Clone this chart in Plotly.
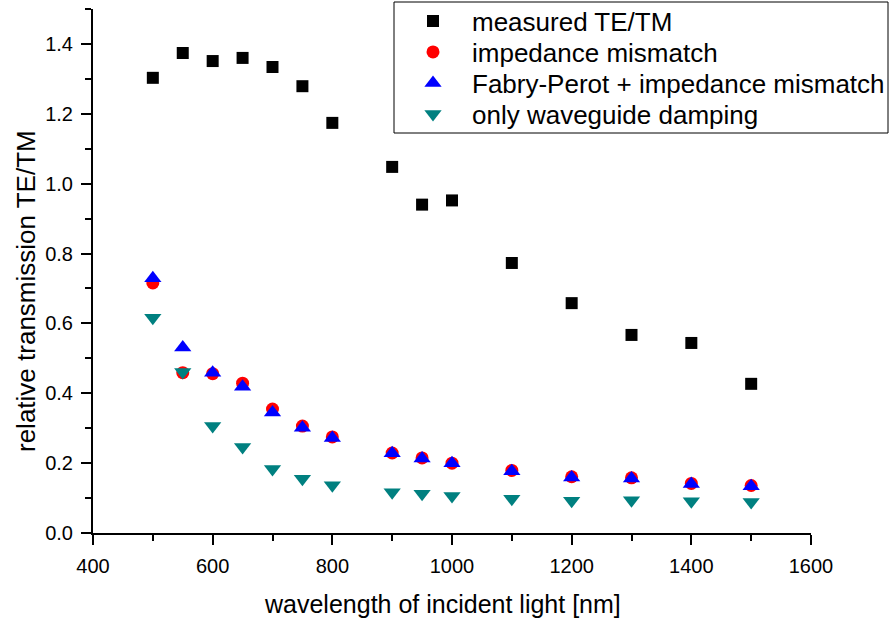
import plotly.graph_objects as go

wavelength = [500, 550, 600, 650, 700, 750, 800, 900, 950, 1000, 1100, 1200, 1300, 1400, 1500]
measured = [1.303, 1.374, 1.351, 1.360, 1.334, 1.279, 1.174, 1.048, 0.940, 0.952, 0.773, 0.658, 0.567, 0.544, 0.427]
impedance = [0.716, 0.459, 0.456, 0.429, 0.355, 0.306, 0.275, 0.229, 0.215, 0.200, 0.179, 0.161, 0.158, 0.142, 0.136]
fabry_perot = [0.729, 0.531, 0.459, 0.419, 0.345, 0.301, 0.272, 0.228, 0.213, 0.200, 0.177, 0.159, 0.156, 0.140, 0.134]
waveguide = [0.616, 0.461, 0.306, 0.246, 0.183, 0.155, 0.137, 0.117, 0.112, 0.106, 0.098, 0.092, 0.094, 0.091, 0.089]

names = ["measured TE/TM", "impedance mismatch", "Fabry-Perot + impedance mismatch", "only waveguide damping"]
FONT = "Liberation Sans, Arial, sans-serif"

# plot area in pixels
L, R, T, B = 93, 811, 9, 533
W, H = R - L, B - T
px = lambda x: (x - L) / W
py = lambda y: (B - y) / H

fig = go.Figure()
fig.add_trace(go.Scatter(x=wavelength, y=measured, mode="markers", name=names[0], legend="legend",
                         marker=dict(symbol="square", size=12, color="black")))
fig.add_trace(go.Scatter(x=wavelength, y=impedance, mode="markers", name=names[1], legend="legend2",
                         marker=dict(symbol="circle", size=13, color="#ff0000")))
fig.add_trace(go.Scatter(x=wavelength, y=fabry_perot, mode="markers", name=names[2], legend="legend3",
                         marker=dict(symbol="triangle-up", size=15, color="#0000ff")))
fig.add_trace(go.Scatter(x=wavelength, y=waveguide, mode="markers", name=names[3], legend="legend4",
                         marker=dict(symbol="triangle-down", size=15, color="#008080")))

axis_common = dict(showgrid=False, zeroline=False, showline=True, linecolor="black", linewidth=2,
                   ticks="outside", ticklen=10, tickwidth=2, tickcolor="black",
                   ticklabelstandoff=4,
                   tickfont=dict(family=FONT, size=20, color="black"))

legend_centers = [21, 52, 83, 114]
legends = {}
for i, yc in enumerate(legend_centers):
    key = "legend" if i == 0 else f"legend{i + 1}"
    legends[key] = dict(x=px(394), y=py(yc), xanchor="left", yanchor="middle",
                        bgcolor="rgba(0,0,0,0)", borderwidth=0, itemwidth=68,
                        font=dict(family=FONT, size=26, color="black"))

fig.update_layout(
    width=889, height=621,
    margin=dict(l=L, r=889 - R, t=T, b=621 - B, autoexpand=False),
    paper_bgcolor="white", plot_bgcolor="white",
    font=dict(family=FONT, color="black"),
    xaxis=dict(range=[400, 1600], dtick=200, tick0=400,
               minor=dict(dtick=100, ticks="outside", ticklen=6, tickwidth=2, tickcolor="black"),
               **axis_common),
    yaxis=dict(range=[0, 1.5], dtick=0.2, tick0=0, tickformat=".1f",
               minor=dict(dtick=0.1, ticks="outside", ticklen=6, tickwidth=2, tickcolor="black"),
               **axis_common),
    showlegend=True,
    **legends,
)
# legend frame
fig.add_shape(type="rect", xref="paper", yref="paper",
              x0=px(394), x1=px(888), y0=py(133), y1=py(2),
              line=dict(color="black", width=1), fillcolor="white", layer="above")

fig.add_annotation(text="wavelength of incident light [nm]", xref="paper", yref="paper",
                   x=px(442), y=py(604), showarrow=False,
                   font=dict(family=FONT, size=25, color="black"), xanchor="center", yanchor="middle")
fig.add_annotation(text="relative transmission TE/TM", xref="paper", yref="paper",
                   x=px(26), y=py(291), showarrow=False, textangle=-90,
                   font=dict(family=FONT, size=26, color="black"), xanchor="center", yanchor="middle")

fig.write_html("out.html")
